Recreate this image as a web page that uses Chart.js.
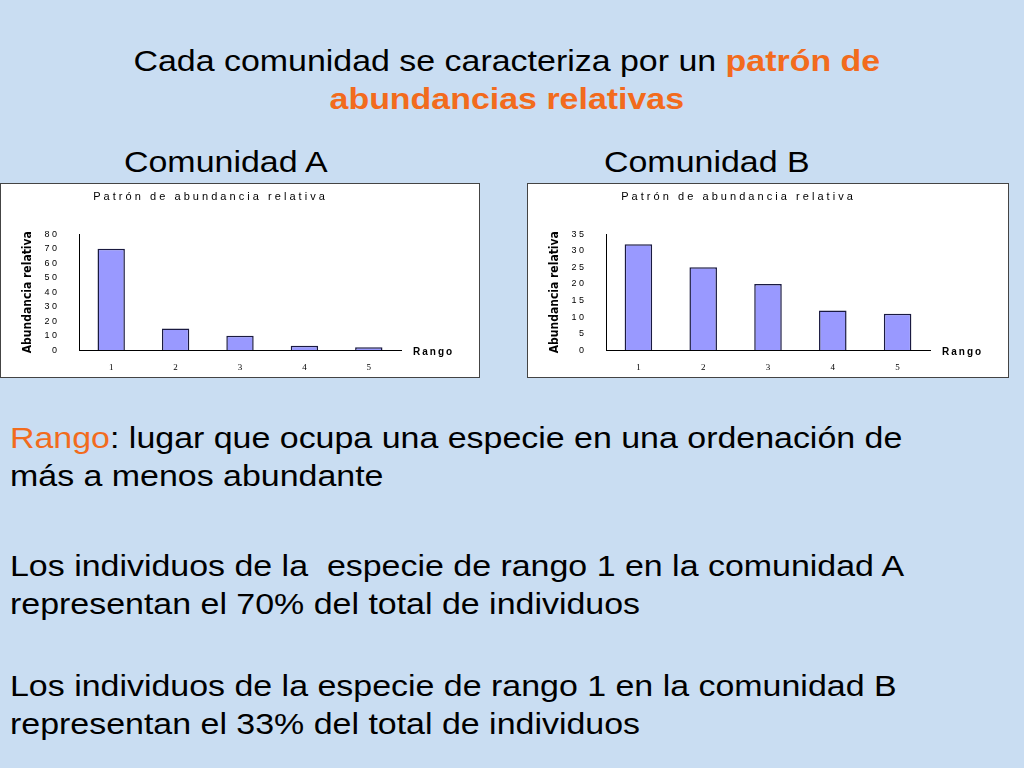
<!DOCTYPE html>
<html><head><meta charset="utf-8">
<script src="https://cdn.jsdelivr.net/npm/chart.js@4"></script>
<style>
body{margin:0;width:1024px;height:768px;overflow:hidden;background:#c9ddf2;font-family:"Liberation Sans",Arial,sans-serif;position:relative}
.t{position:absolute;color:#000;font-size:29px;line-height:38px;transform:scaleX(1.17);transform-origin:0 0;white-space:nowrap}
.box{position:absolute;background:#fff;border:1px solid #444;box-sizing:border-box}
.o{color:#f26b1d;font-weight:bold}
</style></head><body>
<div class="t" style="left:133px;top:42px;text-align:center;width:639px">Cada comunidad se caracteriza por un <span class="o">patrón de<br>abundancias relativas</span></div>
<div class="t" style="left:124px;top:143px">Comunidad A</div>
<div class="t" style="left:604px;top:143px">Comunidad B</div>
<div class="box" style="left:0;top:183px;width:480px;height:195px"><canvas id="cA"></canvas></div>
<div class="box" style="left:527px;top:183px;width:482px;height:195px"><canvas id="cB"></canvas></div>
<div class="t" style="left:10px;top:419px"><span class="o" style="font-weight:normal">Rango</span>: lugar que ocupa una especie en una ordenación de<br>más a menos abundante</div>
<div class="t" style="left:10px;top:547px">Los individuos de la&nbsp; especie de rango 1 en la comunidad A<br>representan el 70% del total de individuos</div>
<div class="t" style="left:10px;top:667px">Los individuos de la especie de rango 1 en la comunidad B<br>representan el 33% del total de individuos</div>
<script>
const ranks = ["1","2","3","4","5"];
const valuesA = [70, 15, 10, 3, 2];
const valuesB = [32, 25, 20, 12, 11];

const rangoLabel = {
  id: "rango",
  afterDraw(c){
    const x = c.scales.x, ctx = c.ctx;
    ctx.save();
    ctx.font = "bold 10px 'Liberation Sans'";
    ctx.letterSpacing = "2px";
    ctx.fillStyle = "#000";
    ctx.textBaseline = "middle";
    ctx.fillText("Rango", x.right + 12, x.top + 2);
    ctx.restore();
  }
};

function makeChart(id, data, max, step){
  return new Chart(document.getElementById(id), {
    type: "bar",
    data: { labels: ranks, datasets: [{ data, backgroundColor:"#9999ff", borderColor:"#1a1a40", borderWidth:1.5, barPercentage:0.85, categoryPercentage:0.5 }] },
    options: {
      responsive:false, animation:false, devicePixelRatio:1,
      layout:{ padding:{ left:16, right:78, top:0, bottom:0 } },
      plugins:{ legend:{display:false}, tooltip:{enabled:false},
        title:{ display:true, text:"P a t r ó n   d e   a b u n d a n c i a   r e l a t i v a", color:"#000", font:{size:11, family:"Liberation Sans", weight:"normal"}, padding:{top:6,bottom:31} } },
      scales:{
        x:{ grid:{display:false}, border:{color:"#000"}, ticks:{color:"#000", font:{size:9, family:"Liberation Serif"}, padding:4} },
        y:{ min:0, max, afterFit(s){ s.width = 62; },
            ticks:{stepSize:step, color:"#000", font:{size:9, family:"Liberation Sans"}, padding:14, callback:v=>String(v).split("").join(" ")},
            grid:{display:false}, border:{color:"#000"},
            title:{ display:true, text:"Abundancia relativa", color:"#000", font:{size:12, weight:"bold", family:"'DejaVu Sans Condensed','Liberation Sans'"} } }
      }
    },
    plugins:[rangoLabel]
  });
}
for (const [id,w] of [["cA",478],["cB",480]]){ const c=document.getElementById(id); c.width=w; c.height=193; }
makeChart("cA", valuesA, 80, 10);
makeChart("cB", valuesB, 35, 5);
</script>
</body></html>
